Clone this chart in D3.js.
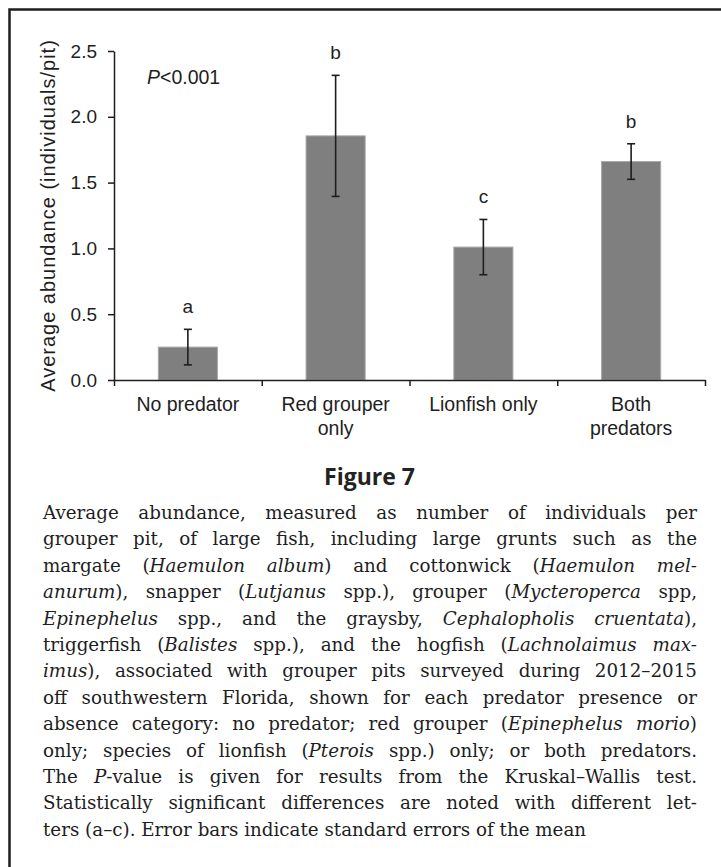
<!DOCTYPE html>
<html>
<head>
<meta charset="utf-8">
<script src="https://cdn.jsdelivr.net/npm/d3@7"></script>
<style>
  body { margin: 0; background: #fff; }
  svg { display: block; }
</style>
</head>
<body>
<svg id="chart"></svg>
<script>
// ─── Figure 7: average abundance of large fish per grouper pit ─────

const categories = ["No predator", "Red grouper only", "Lionfish only", "Both predators"];
const categoryLines = [["No predator"], ["Red grouper", "only"], ["Lionfish only"], ["Both", "predators"]];
const means = [0.25, 1.855, 1.01, 1.66];
const stdErrors = [0.135, 0.46, 0.21, 0.135];
const groupLetters = ["a", "b", "c", "b"];
const yTicks = [0, 0.5, 1.0, 1.5, 2.0, 2.5];

// caption, one entry per printed line; _..._ marks italic runs
const captionLines = [
  "Average abundance, measured as number of individuals per",
  "grouper pit, of large fish, including large grunts such as the",
  "margate (_Haemulon album_) and cottonwick (_Haemulon mel-_",
  "_anurum_), snapper (_Lutjanus_ spp.), grouper (_Mycteroperca_ spp,",
  "_Epinephelus_ spp., and the graysby, _Cephalopholis cruentata_),",
  "triggerfish (_Balistes_ spp.), and the hogfish (_Lachnolaimus max-_",
  "_imus_), associated with grouper pits surveyed during 2012–2015",
  "off southwestern Florida, shown for each predator presence or",
  "absence category: no predator; red grouper (_Epinephelus morio_)",
  "only; species of lionfish (_Pterois_ spp.) only; or both predators.",
  "The _P_-value is given for results from the Kruskal–Wallis test.",
  "Statistically significant differences are noted with different let-",
  "ters (a–c). Error bars indicate standard errors of the mean",
];

const W = 721, H = 867;
const INK = "#1e1e1e";
const SANS = "'Liberation Sans', Arial, sans-serif";

const svg = d3.select("#chart").attr("width", W).attr("height", H);

svg.append("rect").attr("width", W).attr("height", H).attr("fill", "#fff");

// Frame (top and left rules only)
svg.append("path")
  .attr("d", `M9.5,${H} V9.5 H${W}`)
  .attr("fill", "none")
  .attr("stroke", INK)
  .attr("stroke-width", 2.5);

// Scales
const plot = { left: 114, right: 705, top: 51, bottom: 380 };

const x = d3.scaleBand()
  .domain(categories)
  .range([plot.left, plot.right])
  .paddingInner(0.6)
  .paddingOuter(0.3);

const y = d3.scaleLinear()
  .domain([0, 2.5])
  .range([plot.bottom, plot.top]);

const g = svg.append("g");

// Bars
g.append("g").selectAll("rect")
  .data(categories)
  .join("rect")
  .attr("x", d => x(d))
  .attr("y", (d, i) => y(means[i]))
  .attr("width", x.bandwidth())
  .attr("height", (d, i) => y(0) - y(means[i]))
  .attr("fill", "#7f7f7f")
  .attr("stroke", "#a8a8a8")
  .attr("stroke-width", 1);

// Error bars
const cx = d => x(d) + x.bandwidth() / 2;
const err = g.append("g")
  .attr("stroke", INK)
  .attr("stroke-width", 1.6)
  .selectAll("g")
  .data(categories)
  .join("g");

err.append("line")
  .attr("x1", cx).attr("x2", cx)
  .attr("y1", (d, i) => y(means[i] + stdErrors[i]))
  .attr("y2", (d, i) => y(means[i] - stdErrors[i]));
err.append("line")
  .attr("x1", d => cx(d) - 4).attr("x2", d => cx(d) + 4)
  .attr("y1", (d, i) => y(means[i] + stdErrors[i]))
  .attr("y2", (d, i) => y(means[i] + stdErrors[i]));
err.append("line")
  .attr("x1", d => cx(d) - 4).attr("x2", d => cx(d) + 4)
  .attr("y1", (d, i) => y(means[i] - stdErrors[i]))
  .attr("y2", (d, i) => y(means[i] - stdErrors[i]));

// Significance letters
g.append("g").selectAll("text")
  .data(categories)
  .join("text")
  .attr("x", cx)
  .attr("y", (d, i) => y(means[i] + stdErrors[i]) - 16)
  .attr("text-anchor", "middle")
  .attr("font-family", SANS)
  .attr("font-size", 19)
  .attr("fill", INK)
  .text((d, i) => groupLetters[i]);

// Y axis
const yAxis = g.append("g")
  .attr("transform", `translate(${plot.left},0)`)
  .call(d3.axisLeft(y)
    .tickValues(yTicks)
    .tickFormat(d3.format(".1f"))
    .tickSize(6)
    .tickSizeOuter(0)
    .tickPadding(11));

// X axis: ticks at the band boundaries
const xEdge = d3.scaleLinear().domain([0, categories.length]).range([plot.left, plot.right]);
const xAxis = g.append("g")
  .attr("transform", `translate(0,${plot.bottom})`)
  .call(d3.axisBottom(xEdge)
    .tickValues(d3.range(categories.length + 1))
    .tickFormat("")
    .tickSize(6)
    .tickSizeOuter(0));

[yAxis, xAxis].forEach(a => {
  a.selectAll("path, line").attr("stroke", INK).attr("stroke-width", 1.5);
  a.selectAll("text")
    .attr("font-family", SANS)
    .attr("font-size", 19)
    .attr("fill", INK);
});

// Category labels
g.append("g").selectAll("text")
  .data(categories)
  .join("text")
  .attr("text-anchor", "middle")
  .attr("font-family", SANS)
  .attr("font-size", 19.5)
  .attr("fill", INK)
  .each(function(d, i) {
    d3.select(this).selectAll("tspan")
      .data(categoryLines[i])
      .join("tspan")
      .attr("x", cx(d))
      .attr("y", (t, j) => plot.bottom + 31 + j * 24)
      .text(t => t);
  });

// Y axis title
svg.append("text")
  .attr("transform", `translate(55,${(plot.top + plot.bottom) / 2}) rotate(-90)`)
  .attr("text-anchor", "middle")
  .attr("font-family", SANS)
  .attr("font-size", 20)
  .attr("letter-spacing", 1)
  .attr("fill", INK)
  .text("Average abundance (individuals/pit)");

// Kruskal–Wallis P value
const pText = svg.append("text")
  .attr("x", 147)
  .attr("y", 84)
  .attr("font-family", SANS)
  .attr("font-size", 19.5)
  .attr("fill", INK);
pText.append("tspan").attr("font-style", "italic").text("P");
pText.append("tspan").text("<0.001");

// Figure number
svg.append("text")
  .attr("x", 369.5)
  .attr("y", 485)
  .attr("text-anchor", "middle")
  .attr("font-family", "'Open Sans', Lato, sans-serif")
  .attr("font-weight", 700)
  .attr("font-size", 23)
  .attr("fill", "#222")
  .text("Figure 7");

// Caption, justified line by line
const capLeft = 43, capRight = 697;
const cap = svg.append("g")
  .attr("font-family", "'DejaVu Serif', serif")
  .attr("font-size", 18.3)
  .attr("fill", INK);

captionLines.forEach((line, i) => {
  const t = cap.append("text")
    .attr("x", capLeft)
    .attr("y", 519 + i * 26.4);
  line.split("_").forEach((part, k) => {
    if (!part) return;
    t.append("tspan")
      .attr("font-style", k % 2 ? "italic" : "normal")
      .text(part);
  });
  if (i < captionLines.length - 1) {
    const spaces = (line.match(/ /g) || []).length;
    const natural = t.node().getComputedTextLength();
    if (spaces) t.attr("word-spacing", (capRight - capLeft - natural) / spaces);
  }
});
</script>
</body>
</html>
